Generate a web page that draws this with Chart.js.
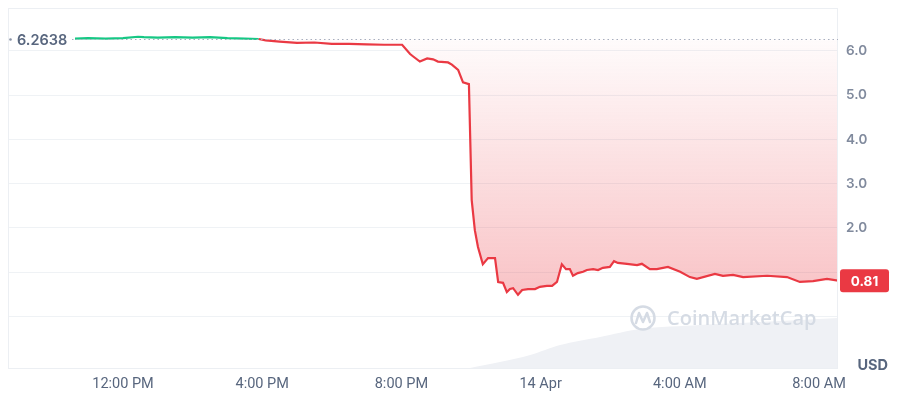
<!DOCTYPE html>
<html><head><meta charset="utf-8">
<script src="https://cdn.jsdelivr.net/npm/chart.js@4.4.1/dist/chart.umd.min.js"></script>
<style>html,body{margin:0;padding:0;background:#fff;}#wrap{width:900px;height:400px;position:relative}</style>
</head><body><div id="wrap"><canvas id="c" width="900" height="400"></canvas></div>
<script>
const baselinePrice = 6.2638;
const currentPrice = 0.81;
// time in hours since 00:00, 13 Apr
const priceHours = [10.62,11.0,11.5,12.0,12.43,12.6,13.0,13.5,14.0,14.5,15.0,15.5,15.9,16.1,16.5,17.0,17.5,18.0,18.5,19.0,19.5,20.02,20.25,20.33,20.53,20.74,20.91,21.05,21.34,21.45,21.63,21.77,21.94,22.02,22.11,22.20,22.34,22.49,22.69,22.78,22.92,23.03,23.12,23.21,23.35,23.47,23.64,23.84,23.98,24.18,24.33,24.47,24.61,24.73,24.84,24.93,25.07,25.22,25.33,25.51,25.65,25.79,25.99,26.11,26.22,26.48,26.77,26.91,27.14,27.34,27.66,28.01,28.29,28.49,29.01,29.24,29.53,29.82,30.51,31.08,31.45,31.83,32.23,32.55];
const priceValues = [6.28,6.29,6.28,6.29,6.32,6.31,6.30,6.31,6.30,6.31,6.29,6.28,6.27,6.24,6.21,6.18,6.19,6.16,6.16,6.15,6.14,6.14,5.93,5.88,5.76,5.83,5.81,5.76,5.74,5.69,5.57,5.29,5.25,2.63,1.95,1.57,1.18,1.32,1.32,0.78,0.76,0.55,0.62,0.64,0.49,0.60,0.62,0.62,0.67,0.69,0.69,0.78,1.18,1.07,1.07,0.92,0.98,1.01,1.05,1.07,1.05,1.10,1.12,1.25,1.21,1.19,1.16,1.19,1.07,1.07,1.12,1.01,0.89,0.85,0.96,0.92,0.94,0.89,0.92,0.89,0.78,0.80,0.85,0.81];
const volumeHours = [21.97,22.83,23.70,24.56,25.71,26.86,28.58,30.30,31.45,32.55];
const volumeValues = [0,0.12,0.26,0.46,0.62,0.78,0.86,0.92,0.96,1.00];
const xTickHours = [12,16,20,24,28,32];
const xTickLabels = ['12:00 PM','4:00 PM','8:00 PM','14 Apr','4:00 AM','8:00 AM'];
const yTickValues = [0,1,2,3,4,5,6];

const GREEN = '#16c784', RED = '#ea3943';

const pricePoints = priceHours.map((h,i)=>({x:h,y:priceValues[i]}));
const volumePoints = volumeHours.map((h,i)=>({x:h,y:volumeValues[i]}));

const decor = {
  id:'decor',
  afterDatasetsDraw(chart){
    const ctx = chart.ctx;
    ctx.save();
    const cx = 643, cy = 318;
    ctx.strokeStyle = '#d5dbe4'; ctx.lineWidth = 2.5;
    ctx.beginPath(); ctx.arc(cx, cy, 11.5, 0, Math.PI*2); ctx.stroke();
    ctx.lineJoin='round'; ctx.lineCap='round';
    ctx.beginPath(); ctx.moveTo(cx-7,cy+5); ctx.lineTo(cx-4,cy-5); ctx.lineTo(cx,cy+4); ctx.lineTo(cx+4,cy-5); ctx.lineTo(cx+7,cy+4); ctx.stroke();
    ctx.fillStyle = '#d5dbe4';
    ctx.font = '600 20px "Open Sans"';
    ctx.textBaseline='middle'; ctx.textAlign='left';
    ctx.fillText('CoinMarketCap', 667, 319);
    ctx.restore();
  },
  afterDraw(chart){
    const ctx = chart.ctx, a = chart.chartArea, y = chart.scales.y;
    ctx.save();
    ctx.strokeStyle = '#eceff3'; ctx.lineWidth = 1;
    ctx.strokeRect(a.left+0.5, a.top+0.5, a.right-a.left-1, a.bottom-a.top);
    const by = Math.round(y.getPixelForValue(baselinePrice))+0.5;
    ctx.strokeStyle = '#a7afbf'; ctx.lineWidth = 1.2; ctx.setLineDash([1.5,3]);
    ctx.beginPath(); ctx.moveTo(72, by); ctx.lineTo(a.right, by); ctx.stroke();
    ctx.setLineDash([]);
    ctx.fillStyle = '#8a93a6';
    ctx.beginPath(); ctx.arc(10.5, by, 1.3, 0, Math.PI*2); ctx.fill();
    ctx.fillStyle = '#58667e';
    ctx.font = '600 14.5px Inter';
    ctx.textBaseline='middle'; ctx.textAlign='left';
    ctx.fillText(baselinePrice.toFixed(4), 17, by+1);
    const py = y.getPixelForValue(currentPrice);
    ctx.fillStyle = RED;
    const bx = 840, bw = 49, bh = 23;
    ctx.beginPath();
    if (ctx.roundRect) ctx.roundRect(bx, py-bh/2, bw, bh, 3); else ctx.rect(bx, py-bh/2, bw, bh);
    ctx.fill();
    ctx.fillStyle = '#fff';
    ctx.font = '700 13.5px Inter';
    ctx.textAlign='center';
    ctx.fillText(currentPrice.toFixed(2), bx+bw/2, py+1);
    ctx.fillStyle = '#58667e';
    ctx.font = '700 14.5px Inter';
    ctx.textAlign='right';
    ctx.fillText('USD', 888, 366);
    ctx.restore();
  }
};

new Chart(document.getElementById('c'), {
  type:'line',
  data:{
    datasets:[
      {
        data: pricePoints,
        yAxisID:'y',
        borderWidth:2.2,
        borderColor: RED,
        pointRadius:0,
        tension:0,
        segment:{
          borderColor: c => (c.p0.parsed.y >= baselinePrice && c.p1.parsed.y >= baselinePrice) ? GREEN : RED
        },
        fill:{target:{value: baselinePrice}},
        backgroundColor: (c) => {
          const chart = c.chart; const a = chart.chartArea;
          if (!a) return 'rgba(234,57,67,0.1)';
          const ys = chart.scales.y;
          const top = ys.getPixelForValue(baselinePrice);
          const bot = ys.getPixelForValue(0.5);
          const g = chart.ctx.createLinearGradient(0, top, 0, bot);
          g.addColorStop(0, 'rgba(234,57,67,0.02)');
          g.addColorStop(1, 'rgba(234,57,67,0.30)');
          return g;
        }
      },
      {
        data: volumePoints,
        yAxisID:'y2',
        borderWidth:0,
        pointRadius:0,
        tension:0.3,
        fill:'origin',
        backgroundColor:'#eff1f5'
      }
    ]
  },
  options:{
    responsive:false,
    animation:false,
    devicePixelRatio:1,
    layout:{padding:{left:8, top:8, right:0, bottom:0}},
    plugins:{legend:{display:false}, tooltip:{enabled:false}},
    scales:{
      x:{
        type:'linear', min:8.695, max:32.546,
        afterBuildTicks: s => { s.ticks = xTickHours.map(v=>({value:v})); },
        afterFit: s => { s.height = 32; s.paddingLeft = 0; s.paddingRight = 0; },
        ticks:{
          autoSkip:false, maxRotation:0, padding:8,
          color:'#58667e', font:{family:'Roboto', size:14.5},
          callback: v => { const i = xTickHours.indexOf(v); return i>=0 ? xTickLabels[i] : ''; }
        },
        grid:{display:false, drawTicks:false},
        border:{display:false}
      },
      y:{
        position:'right', min:-1.164, max:6.97,
        afterBuildTicks: s => { s.ticks = yTickValues.map(v=>({value:v})); },
        afterFit: s => { s.width = 62; s.paddingTop = 0; s.paddingBottom = 0; },
        ticks:{
          padding:8, color:'#808a9d', font:{family:'Inter', size:13.5, weight:'600'},
          callback: v => v >= 2 ? v.toFixed(1) : ''
        },
        grid:{color:'#eff2f5', drawTicks:false},
        border:{display:false}
      },
      y2:{display:false, min:0, max:7.2}
    }
  },
  plugins:[decor]
});
</script></body></html>
